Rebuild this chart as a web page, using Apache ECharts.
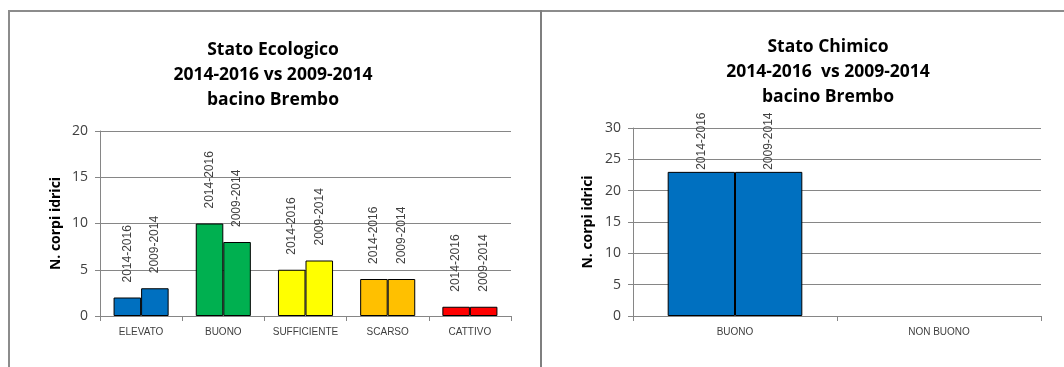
<!DOCTYPE html>
<html>
<head>
<meta charset="utf-8">
<script src="https://cdn.jsdelivr.net/npm/echarts@6/dist/echarts.min.js"></script>
<style>
  html, body { margin: 0; padding: 0; background: #ffffff; }
  #chart { width: 1064px; height: 367px; }
</style>
</head>
<body>
<div id="chart"></div>
<script>
// Ecological status: water bodies per class, two monitoring periods
const ecoCategories = ['ELEVATO', 'BUONO', 'SUFFICIENTE', 'SCARSO', 'CATTIVO'];
const eco2014_2016 = [2, 10, 5, 4, 1];
const eco2009_2014 = [3, 8, 6, 4, 1];
const ecoTicks = [0, 5, 10, 15, 20];

// Chemical status: water bodies per class, two monitoring periods
const chemCategories = ['BUONO', 'NON BUONO'];
const chem2014_2016 = [23, 0];
const chem2009_2014 = [23, 0];
const chemTicks = [0, 5, 10, 15, 20, 25, 30];

const periodNames = ['2014-2016', '2009-2014'];
const ecoColors = ['#0070C0', '#00B050', '#FFFF00', '#FFC000', '#FF0000'];
const chemColor = '#0070C0';

const titleFont = '"Open Sans", "Noto Sans", sans-serif';
const bodyFont = '"Liberation Sans", Arial, sans-serif';

function barItems(values, colorFor) {
  return values.map((v, i) => ({
    value: v,
    itemStyle: { color: colorFor(i), borderWidth: v === 0 ? 0 : 1 },
    label: { show: v !== 0 }
  }));
}

function barSeries(name, values, colorFor, axisIndex, labelDistance, catGap) {
  return {
    type: 'bar',
    name: name,
    xAxisIndex: axisIndex,
    yAxisIndex: axisIndex,
    barGap: '0%',
    barCategoryGap: catGap,
    data: barItems(values, colorFor),
    itemStyle: { borderColor: '#000000', borderWidth: 1 },
    label: {
      show: true,
      position: 'top',
      rotate: 90,
      align: 'left',
      verticalAlign: 'middle',
      distance: labelDistance,
      formatter: '{a}',
      fontFamily: bodyFont,
      fontSize: 12,
      color: '#404040'
    },
    silent: true
  };
}

function valueAxis(index, ticks, gap) {
  return {
    type: 'value',
    gridIndex: index,
    min: ticks[0],
    max: ticks[ticks.length - 1],
    interval: ticks[1] - ticks[0],
    name: 'N. corpi idrici',
    nameLocation: 'middle',
    nameRotate: 90,
    nameGap: gap,
    nameTextStyle: { fontFamily: titleFont, fontWeight: 'bold', fontSize: 14, color: '#000000' },
    axisLine: { show: true, lineStyle: { color: '#868686', width: 1 } },
    axisTick: { show: true, inside: false, length: 5, lineStyle: { color: '#868686' } },
    splitLine: { show: true, lineStyle: { color: '#868686', width: 1 } },
    axisLabel: { margin: 12, fontFamily: titleFont, fontSize: 14, color: '#404040' }
  };
}

function categoryAxis(index, cats) {
  return {
    type: 'category',
    gridIndex: index,
    data: cats,
    axisLine: { show: true, lineStyle: { color: '#868686', width: 1 } },
    axisTick: { show: true, inside: false, length: 5, interval: 0, lineStyle: { color: '#868686' } },
    axisLabel: { interval: 0, margin: 11, fontFamily: bodyFont, fontSize: 10, color: '#404040' }
  };
}

const chart = echarts.init(document.getElementById('chart'), null, { renderer: 'canvas' });

chart.setOption({
  animation: false,
  backgroundColor: '#ffffff',
  title: [
    {
      text: 'Stato Ecologico\n2014-2016 vs 2009-2014\nbacino Brembo',
      left: 268, top: 33, textAlign: 'center',
      textStyle: { fontFamily: titleFont, fontWeight: 'bold', fontSize: 17.5, lineHeight: 25, color: '#000000' }
    },
    {
      text: 'Stato Chimico\n2014-2016  vs 2009-2014\nbacino Brembo',
      left: 823, top: 30, textAlign: 'center',
      textStyle: { fontFamily: titleFont, fontWeight: 'bold', fontSize: 17.5, lineHeight: 25, color: '#000000' }
    }
  ],
  grid: [
    { left: 100, right: 553, top: 131, bottom: 51 },
    { left: 633, right: 23, top: 128, bottom: 51 }
  ],
  xAxis: [categoryAxis(0, ecoCategories), categoryAxis(1, chemCategories)],
  yAxis: [valueAxis(0, ecoTicks, 37), valueAxis(1, chemTicks, 38)],
  series: [
    barSeries(periodNames[0], eco2014_2016, i => ecoColors[i], 0, 15, '33%'),
    barSeries(periodNames[1], eco2009_2014, i => ecoColors[i], 0, 15, '33%'),
    barSeries(periodNames[0], chem2014_2016, () => chemColor, 1, 2, '34%'),
    barSeries(periodNames[1], chem2009_2014, () => chemColor, 1, 2, '34%')
  ],
  graphic: [
    { type: 'line', shape: { x1: 8, y1: 11, x2: 1064, y2: 11 }, style: { stroke: '#8c8c8c', lineWidth: 2 }, silent: true },
    { type: 'line', shape: { x1: 9, y1: 10, x2: 9, y2: 367 }, style: { stroke: '#8c8c8c', lineWidth: 2 }, silent: true },
    { type: 'line', shape: { x1: 541, y1: 10, x2: 541, y2: 367 }, style: { stroke: '#7f7f7f', lineWidth: 2 }, silent: true }
  ]
});
</script>
</body>
</html>
